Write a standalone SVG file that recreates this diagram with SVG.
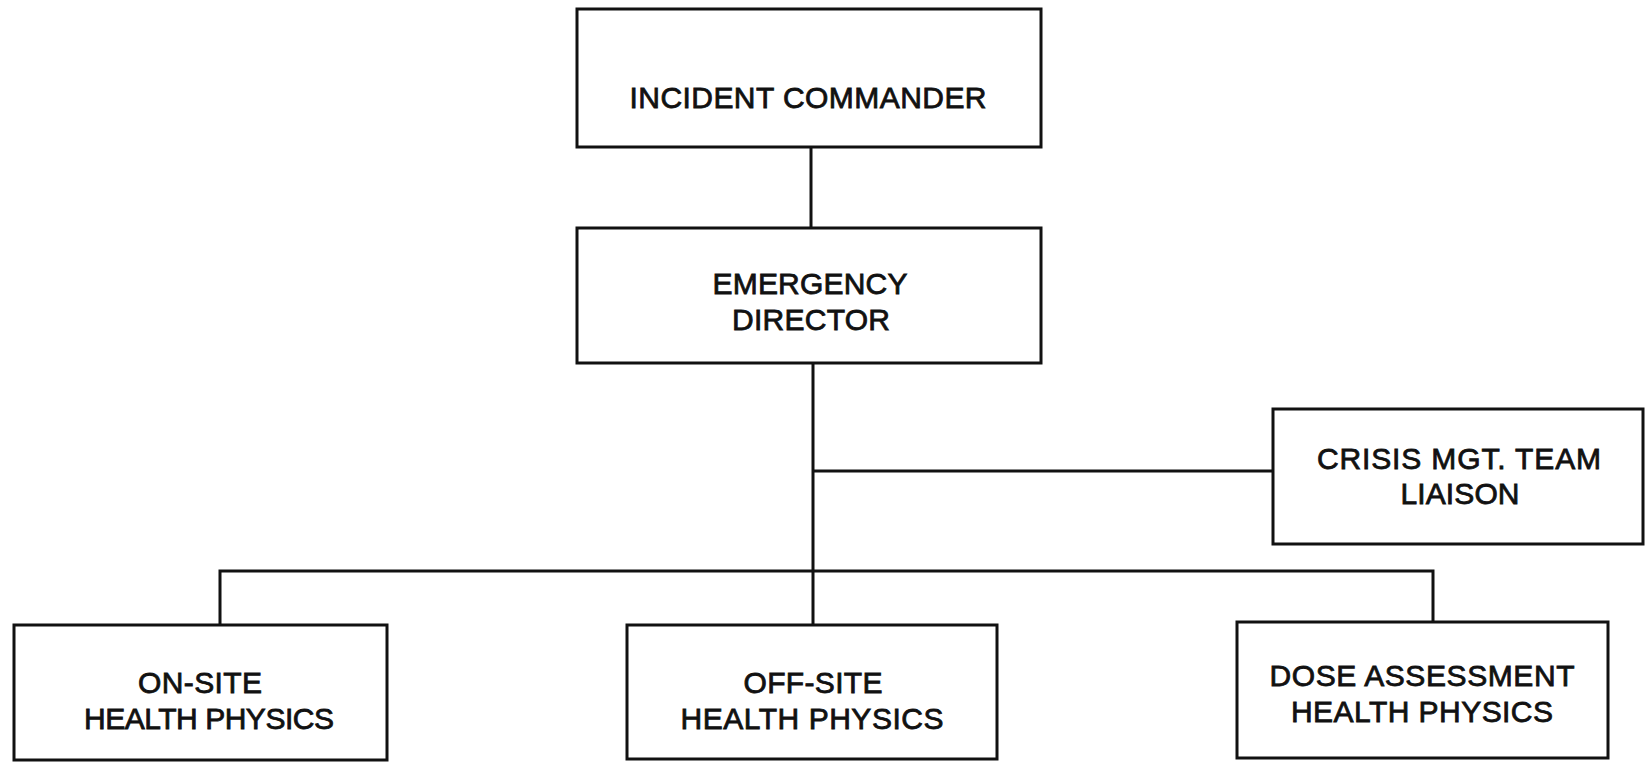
<svg xmlns="http://www.w3.org/2000/svg" width="1646" height="763" viewBox="0 0 1646 763">
<style>
.box{fill:#fff;stroke:#111;stroke-width:3}
.ln{fill:none;stroke:#111;stroke-width:3}
.t{font-family:"Liberation Sans",Arial,sans-serif;font-size:30px;fill:#111;stroke:#111;stroke-width:0.8;text-anchor:middle}
</style>
<rect width="1646" height="763" fill="#fff"/>
<g id="connectors">
<line class="ln" x1="811" y1="147" x2="811" y2="228"/>
<line class="ln" x1="813" y1="363" x2="813" y2="625"/>
<line class="ln" x1="813" y1="471" x2="1273" y2="471"/>
<polyline class="ln" points="220,625 220,571 1433,571 1433,622"/>
</g>
<g id="incident-commander">
<rect class="box" x="577" y="9" width="464" height="138"/>
<text class="t" x="808" y="108" textLength="357">INCIDENT COMMANDER</text>
</g>
<g id="emergency-director">
<rect class="box" x="577" y="228" width="464" height="135"/>
<text class="t" x="810" y="294" textLength="195">EMERGENCY</text>
<text class="t" x="811" y="330" textLength="158">DIRECTOR</text>
</g>
<g id="crisis-mgt-team-liaison">
<rect class="box" x="1273" y="409" width="370" height="135"/>
<text class="t" x="1459" y="469" textLength="284">CRISIS MGT. TEAM</text>
<text class="t" x="1460" y="504" textLength="119">LIAISON</text>
</g>
<g id="on-site-health-physics">
<rect class="box" x="14" y="625" width="373" height="135"/>
<text class="t" x="200" y="693" textLength="124">ON-SITE</text>
<text class="t" x="209" y="729" textLength="250">HEALTH PHYSICS</text>
</g>
<g id="off-site-health-physics">
<rect class="box" x="627" y="625" width="370" height="134"/>
<text class="t" x="813" y="693" textLength="139">OFF-SITE</text>
<text class="t" x="812" y="729" textLength="263">HEALTH PHYSICS</text>
</g>
<g id="dose-assessment-health-physics">
<rect class="box" x="1237" y="622" width="371" height="136"/>
<text class="t" x="1422" y="686" textLength="305">DOSE ASSESSMENT</text>
<text class="t" x="1422" y="722" textLength="262">HEALTH PHYSICS</text>
</g>
</svg>
